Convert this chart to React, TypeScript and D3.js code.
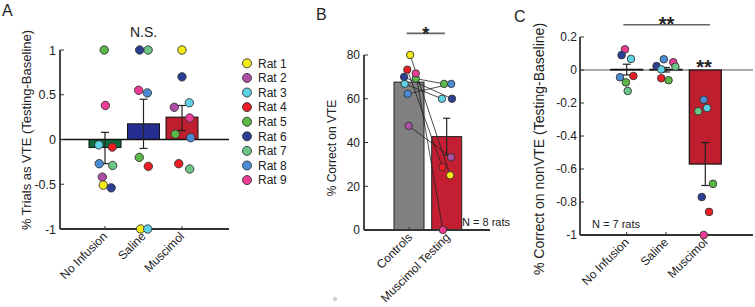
import React from 'react';
import * as d3 from 'd3';

const FONT = "'Liberation Sans', Arial, Helvetica, sans-serif";

// ---------- shared ----------
const rats = ['Rat 1', 'Rat 2', 'Rat 3', 'Rat 4', 'Rat 5', 'Rat 6', 'Rat 7', 'Rat 8', 'Rat 9'];
const ratColors = ['#f6ea16', '#ad4fa5', '#5fd1e4', '#ec1c24', '#5cb847', '#2b3f95', '#6cc687', '#4a8dd4', '#ee3c96'];

// ---------- Panel A ----------
const aCategories = ['No Infusion', 'Saline', 'Muscimol'];
const aMeans = [-0.09, 0.175, 0.25];
const aErrLow = [-0.27, -0.1, 0.1];
const aErrHigh = [0.08, 0.45, 0.38];
const aBarColors = ['#0b6b3a', '#262f91', '#be1e2e'];
const aTicks = [-1, -0.5, 0, 0.5, 1];
// [category index, rat index (0-based), value, jitter (fraction of category step)]
const aPoints: [number, number, number, number][] = [
  [0, 4, 1.0, -0.02], [0, 8, 0.38, 0.01], [0, 2, -0.06, -0.16], [0, 3, -0.085, 0.19],
  [0, 7, -0.27, -0.15], [0, 6, -0.29, 0.2], [0, 1, -0.42, -0.07], [0, 0, -0.51, -0.045], [0, 5, -0.54, 0.16],
  [1, 5, 1.0, -0.1], [1, 6, 1.0, 0.12], [1, 8, 0.55, -0.125], [1, 7, 0.52, 0.1],
  [1, 4, -0.2, -0.11], [1, 3, -0.3, 0.125], [1, 0, -1.0, -0.075], [1, 2, -1.0, 0.11],
  [2, 0, 1.0, 0], [2, 5, 0.7, 0], [2, 1, 0.36, -0.2], [2, 2, 0.41, 0.19], [2, 8, 0.24, 0.2],
  [2, 4, 0.06, -0.175], [2, 7, 0.02, 0.225], [2, 3, -0.27, -0.085], [2, 6, -0.33, 0.2],
];

// ---------- Panel B ----------
const bCategories = ['Controls', 'Muscimol Testing'];
const bMeans = [67.6, 42.7];
const bErrLow = [null, 34.3];
const bErrHigh = [null, 51.1];
const bBarColors = ['#808080', '#c41e32'];
const bTicks = [0, 20, 40, 60, 80];
// [rat index, controls value, muscimol value, controls jitter, muscimol jitter] (jitter: fraction of step)
const bPairs: [number, number, number, number, number][] = [
  [0, 80, 25, 0.03, 0.09],
  [1, 47.6, 33.3, -0.01, 0.115],
  [2, 66.8, 60, -0.115, -0.125],
  [3, 73.3, 28.7, -0.045, -0.115],
  [4, 69.2, 66.8, 0.18, -0.07],
  [5, 70, 60, -0.13, 0.14],
  [7, 62.2, 66.8, -0.035, 0.12],
  [8, 71.6, 0, 0.18, -0.1],
];

// ---------- Panel C ----------
const cCategories = ['No Infusion', 'Saline', 'Muscimol'];
const cMeans = [0.004, 0.004, -0.57];
const cErrLow = [-0.03, -0.012, -0.7];
const cErrHigh = [0.035, 0.015, -0.44];
const cBarColors = ['#0b6b3a', '#262f91', '#be1e2d'];
const cTicks = [0.2, 0, -0.2, -0.4, -0.6, -0.8, -1];
const cPoints: [number, number, number, number][] = [
  [0, 8, 0.125, -0.045], [0, 5, 0.09, -0.13], [0, 2, 0.067, 0.11], [0, 7, -0.044, -0.17],
  [0, 3, -0.036, 0.17], [0, 4, -0.075, -0.02], [0, 6, -0.127, 0.025],
  [1, 7, 0.065, -0.055], [1, 8, 0.047, 0.185], [1, 5, 0.024, -0.24], [1, 6, 0.02, 0.24],
  [1, 2, 0.004, -0.12], [1, 3, -0.05, -0.12], [1, 4, -0.062, 0.065],
  [2, 7, -0.18, -0.04], [2, 2, -0.23, 0.045], [2, 6, -0.25, -0.18], [2, 4, -0.69, 0.195],
  [2, 5, -0.77, -0.09], [2, 3, -0.86, 0.095], [2, 8, -1.0, -0.04],
];

const Dot = ({ cx, cy, r, fill }: { cx: number; cy: number; r: number; fill: string }) => (
  <circle cx={cx} cy={cy} r={r} fill={fill} stroke="#333" strokeWidth={0.9} />
);

const ErrBar = ({ x, y1, y2, cap }: { x: number; y1: number; y2: number; cap: number }) => (
  <g stroke="#222" strokeWidth={1.2} fill="none">
    <line x1={x} x2={x} y1={y1} y2={y2} />
    <line x1={x - cap} x2={x + cap} y1={y1} y2={y1} />
    <line x1={x - cap} x2={x + cap} y1={y2} y2={y2} />
  </g>
);

export default function App() {
  // ---- A scales ----
  const yA = d3.scaleLinear().domain([-1, 1]).range([229, 50]);
  const xA = d3.scaleLinear().domain([0, 2]).range([105, 182]);
  const stepA = xA(1) - xA(0);
  const barWA = 32;
  const axA = { left: 60, right: 229 };

  // ---- B scales ----
  const yB = d3.scaleLinear().domain([0, 80]).range([230, 55]);
  const xB = d3.scaleLinear().domain([0, 1]).range([409, 446.7]);
  const stepB = xB(1) - xB(0);
  const barWB = 30;
  const axB = { left: 364, right: 490 };

  // ---- C scales ----
  const yC = d3.scaleLinear().domain([-1, 0.2]).range([235, 37]);
  const xC = d3.scaleLinear().domain([0, 2]).range([626.7, 705.3]);
  const stepC = xC(1) - xC(0);
  const barWC = 32;
  const axC = { left: 580, right: 753 };

  const txt = { fontFamily: FONT, fill: '#222' } as const;

  return (
    <svg width={755} height={307} style={{ position: 'absolute', left: 0, top: 0, background: '#fff' }}>
      <rect x={0} y={0} width={755} height={307} fill="#fff" />

      {/* ================= Panel A ================= */}
      <text x={2} y={16} fontSize={16} {...txt}>A</text>
      <text x={143.5} y={37} fontSize={14} textAnchor="middle" {...txt}>N.S.</text>
      <text transform="translate(31,130) rotate(-90)" fontSize={13} textAnchor="middle" {...txt}>
        % Trials as VTE (Testing-Baseline)
      </text>
      {/* bars */}
      {aMeans.map((m, i) => (
        <rect key={'ab' + i} x={xA(i) - barWA / 2} width={barWA}
          y={Math.min(yA(m), yA(0))} height={Math.abs(yA(m) - yA(0))}
          fill={aBarColors[i]} stroke="#111" strokeWidth={1} />
      ))}
      {/* zero line */}
      <line x1={axA.left} x2={axA.right} y1={yA(0)} y2={yA(0)} stroke="#111" strokeWidth={1.5} />
      {/* error bars */}
      {aMeans.map((m, i) => (
        <ErrBar key={'ae' + i} x={xA(i)} y1={yA(aErrHigh[i])} y2={yA(aErrLow[i])} cap={4} />
      ))}
      {/* axes */}
      <line x1={axA.left} x2={axA.left} y1={yA(1)} y2={yA(-1)} stroke="#333" strokeWidth={1.8} />
      <line x1={axA.left} x2={axA.right} y1={yA(-1)} y2={yA(-1)} stroke="#333" strokeWidth={1.8} />
      {aTicks.map((t) => (
        <g key={'at' + t}>
          <line x1={axA.left} x2={axA.left + 4} y1={yA(t)} y2={yA(t)} stroke="#333" strokeWidth={1} />
          <text x={56} y={yA(t)} dy="0.36em" fontSize={12.5} textAnchor="end" {...txt}>{String(t)}</text>
        </g>
      ))}
      {aCategories.map((c, i) => (
        <g key={'ac' + i}>
          <line x1={xA(i)} x2={xA(i)} y1={yA(-1)} y2={yA(-1) - 3} stroke="#333" strokeWidth={1} />
          <text transform={`translate(${xA(i) + 3},${yA(-1) + 8}) rotate(-45)`} fontSize={12}
            textAnchor="end" {...txt}>{c}</text>
        </g>
      ))}
      {/* points */}
      {aPoints.map(([ci, ri, v, j], k) => (
        <Dot key={'ap' + k} cx={xA(ci) + j * stepA} cy={yA(v)} r={4.2} fill={ratColors[ri]} />
      ))}
      {/* legend */}
      {rats.map((r, i) => (
        <g key={'lg' + i}>
          <Dot cx={247} cy={63.3 + i * 14.6} r={4.5} fill={ratColors[i]} />
          <text x={258} y={63.3 + i * 14.6} dy="0.36em" fontSize={12} {...txt}>{r}</text>
        </g>
      ))}

      {/* ================= Panel B ================= */}
      <text x={316} y={20} fontSize={16} {...txt}>B</text>
      <text transform="translate(336,148) rotate(-90)" fontSize={12} textAnchor="middle" {...txt}>
        % Correct on VTE
      </text>
      {/* significance */}
      <line x1={406.7} x2={445} y1={33.3} y2={33.3} stroke="#666" strokeWidth={1.8} />
      <text x={425.8} y={40} fontSize={18} fontWeight="bold" textAnchor="middle" {...txt}>*</text>
      {/* bars */}
      {bMeans.map((m, i) => (
        <rect key={'bb' + i} x={xB(i) - barWB / 2} width={barWB} y={yB(m)} height={yB(0) - yB(m)}
          fill={bBarColors[i]} stroke="#222" strokeWidth={1} />
      ))}
      {bMeans.map((m, i) =>
        bErrLow[i] != null ? (
          <ErrBar key={'be' + i} x={xB(i)} y1={yB(bErrHigh[i] as number)} y2={yB(bErrLow[i] as number)} cap={3.5} />
        ) : null
      )}
      {/* paired lines */}
      {bPairs.map(([ri, c, m, jc, jm], k) => (
        <line key={'bl' + k} x1={xB(0) + jc * stepB} y1={yB(c)} x2={xB(1) + jm * stepB} y2={yB(m)}
          stroke="#222" strokeWidth={0.8} />
      ))}
      {/* axes */}
      <line x1={axB.left} x2={axB.left} y1={yB(80)} y2={yB(0)} stroke="#333" strokeWidth={1.8} />
      <line x1={axB.left} x2={axB.right} y1={yB(0)} y2={yB(0)} stroke="#333" strokeWidth={1.8} />
      {bTicks.map((t) => (
        <g key={'bt' + t}>
          <line x1={axB.left} x2={axB.left + 4} y1={yB(t)} y2={yB(t)} stroke="#333" strokeWidth={1} />
          <text x={360} y={yB(t)} dy="0.36em" fontSize={12} textAnchor="end" {...txt}>{String(t)}</text>
        </g>
      ))}
      {bCategories.map((c, i) => (
        <g key={'bc' + i}>
          <line x1={xB(i)} x2={xB(i)} y1={yB(0)} y2={yB(0) - 3} stroke="#333" strokeWidth={1} />
          <text transform={`translate(${xB(i) + 4},${yB(0) + 8}) rotate(-45)`} fontSize={12}
            textAnchor="end" {...txt}>{c}</text>
        </g>
      ))}
      {/* points */}
      {bPairs.map(([ri, c, m, jc, jm], k) => (
        <g key={'bp' + k}>
          <Dot cx={xB(0) + jc * stepB} cy={yB(c)} r={3.7} fill={ratColors[ri]} />
          <Dot cx={xB(1) + jm * stepB} cy={yB(m)} r={3.7} fill={ratColors[ri]} />
        </g>
      ))}
      <text x={462} y={226} fontSize={11} {...txt}>N = 8 rats</text>
      <circle cx={335} cy={299} r={2.2} fill="#d0d0d0" />

      {/* ================= Panel C ================= */}
      <text x={514} y={21.5} fontSize={16} {...txt}>C</text>
      <text transform="translate(544,149) rotate(-90)" fontSize={14} textAnchor="middle" {...txt}>
        % Correct on nonVTE (Testing-Baseline)
      </text>
      <line x1={623.3} x2={710} y1={24.7} y2={24.7} stroke="#666" strokeWidth={1.6} />
      <text x={666.5} y={31} fontSize={20} fontWeight="bold" textAnchor="middle" {...txt}>**</text>
      <text x={704} y={74} fontSize={20} fontWeight="bold" textAnchor="middle" {...txt}>**</text>
      {/* zero line */}
      <line x1={axC.left} x2={axC.right} y1={yC(0)} y2={yC(0)} stroke="#555" strokeWidth={1} />
      {/* bars */}
      {cMeans.map((m, i) => (
        <rect key={'cb' + i} x={xC(i) - barWC / 2} width={barWC}
          y={Math.min(yC(m), yC(0))} height={Math.abs(yC(m) - yC(0))}
          fill={cBarColors[i]} stroke="#111" strokeWidth={1.2} />
      ))}
      {cMeans.map((m, i) => (
        <ErrBar key={'ce' + i} x={xC(i)} y1={yC(cErrHigh[i])} y2={yC(cErrLow[i])} cap={4} />
      ))}
      {/* axes */}
      <line x1={axC.left} x2={axC.left} y1={yC(0.2)} y2={yC(-1)} stroke="#333" strokeWidth={1.8} />
      <line x1={axC.left} x2={axC.right} y1={yC(-1)} y2={yC(-1)} stroke="#333" strokeWidth={1.8} />
      {cTicks.map((t) => (
        <g key={'ct' + t}>
          <line x1={axC.left} x2={axC.left + 4} y1={yC(t)} y2={yC(t)} stroke="#333" strokeWidth={1} />
          <text x={577} y={yC(t)} dy="0.36em" fontSize={12} textAnchor="end" {...txt}>{String(t)}</text>
        </g>
      ))}
      {cCategories.map((c, i) => (
        <g key={'cc' + i}>
          <line x1={xC(i)} x2={xC(i)} y1={yC(-1)} y2={yC(-1) - 3} stroke="#333" strokeWidth={1} />
          <text transform={`translate(${xC(i) + 3},${yC(-1) + 8}) rotate(-45)`} fontSize={12}
            textAnchor="end" {...txt}>{c}</text>
        </g>
      ))}
      {cPoints.map(([ci, ri, v, j], k) => (
        <Dot key={'cp' + k} cx={xC(ci) + j * stepC} cy={yC(v)} r={3.8} fill={ratColors[ri]} />
      ))}
      <text x={592} y={228} fontSize={11} {...txt}>N = 7 rats</text>
    </svg>
  );
}
